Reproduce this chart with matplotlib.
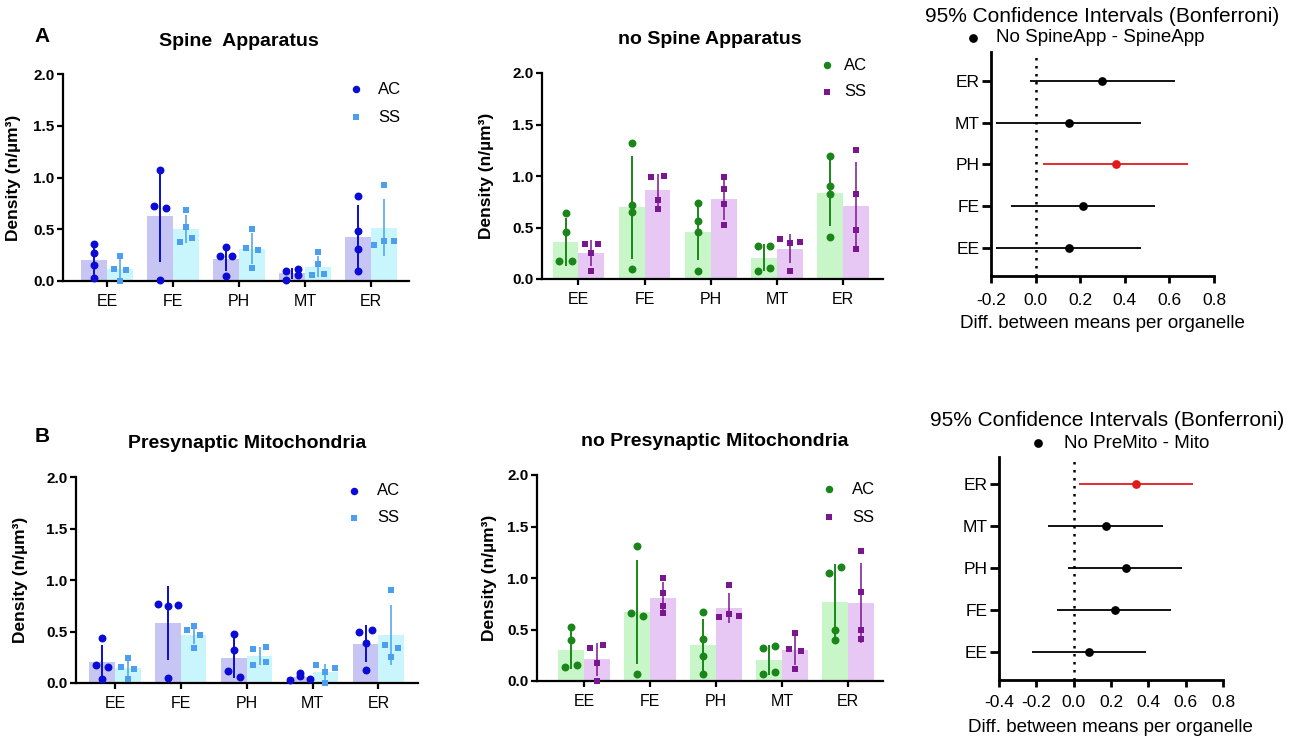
import numpy as np
import matplotlib
matplotlib.use("Agg")
import matplotlib.pyplot as plt
from matplotlib.lines import Line2D

plt.rcParams['font.family'] = ['Liberation Sans', 'DejaVu Sans']

W, H = 1300, 747

# ---------------- data ----------------
cats = ['EE', 'FE', 'PH', 'MT', 'ER']

# Spine Apparatus
sa_ac = [[0.36, 0.27, 0.15, 0.03], [0.72, 0.71, 1.07, 0.01], [0.24, 0.24, 0.33, 0.05],
         [0.10, 0.01, 0.12, 0.06], [0.82, 0.48, 0.31, 0.10]]
sa_ss = [[0.24, 0.12, 0.11, 0.00], [0.69, 0.52, 0.38, 0.42], [0.50, 0.32, 0.30, 0.13],
         [0.28, 0.16, 0.055, 0.065], [0.93, 0.35, 0.39, 0.39]]
# no Spine Apparatus
nsa_ac = [[0.64, 0.46, 0.17, 0.17], [1.32, 0.72, 0.65, 0.10], [0.74, 0.56, 0.46, 0.08],
          [0.32, 0.32, 0.08, 0.11], [1.19, 0.90, 0.83, 0.41]]
nsa_ss = [[0.34, 0.34, 0.25, 0.08], [0.99, 1.00, 0.77, 0.68], [0.99, 0.87, 0.73, 0.52],
          [0.39, 0.35, 0.36, 0.08], [1.25, 0.83, 0.48, 0.29]]
# Presynaptic Mitochondria
pm_ac = [[0.44, 0.17, 0.16, 0.04], [0.77, 0.75, 0.76, 0.05], [0.48, 0.32, 0.12, 0.06],
         [0.10, 0.03, 0.07, 0.04], [0.50, 0.51, 0.39, 0.13]]
pm_ss = [[0.24, 0.16, 0.14, 0.04], [0.51, 0.55, 0.47, 0.34], [0.33, 0.17, 0.35, 0.20],
         [0.17, 0.11, 0.15, 0.00], [0.90, 0.37, 0.25, 0.34]]
# no Presynaptic Mitochondria
npm_ac = [[0.52, 0.40, 0.14, 0.16], [1.31, 0.66, 0.63, 0.07], [0.67, 0.41, 0.24, 0.07],
          [0.32, 0.34, 0.07, 0.09], [1.05, 1.11, 0.50, 0.40]]
npm_ss = [[0.32, 0.35, 0.17, 0.00], [1.00, 0.85, 0.73, 0.66], [0.93, 0.62, 0.65, 0.63],
          [0.47, 0.31, 0.29, 0.12], [1.26, 0.86, 0.50, 0.41]]

# Confidence intervals (order EE, FE, PH, MT, ER from bottom to top)
ci_cats = ['EE', 'FE', 'PH', 'MT', 'ER']
ci1_mean = [0.148, 0.211, 0.361, 0.148, 0.299]
ci1_lo = [-0.178, -0.112, 0.035, -0.178, -0.025]
ci1_hi = [0.473, 0.535, 0.685, 0.473, 0.625]
ci2_mean = [0.083, 0.219, 0.278, 0.174, 0.335]
ci2_lo = [-0.223, -0.089, -0.030, -0.135, 0.031]
ci2_hi = [0.385, 0.519, 0.582, 0.477, 0.639]

# ---------------- styles ----------------
BLUE, BLUE_BAR = '#0B0BD6', '#C6C5F3'
LBLUE, LBLUE_BAR = '#4B9FEE', '#C9F6FC'
GREEN, GREEN_BAR = '#1A861A', '#C8F6C8'
PURPLE, PURPLE_BAR = '#7A168F', '#E7C8F4'
RED = '#E31A1C'

fig = plt.figure(figsize=(W / 100, H / 100), dpi=100)


def ax_at(l, t, r, b):
    return fig.add_axes([l / W, 1 - b / H, (r - l) / W, (b - t) / H])


def fx(x):
    return x / W


def fy(y):
    return 1 - y / H


def swarm(vals, thr=0.062):
    vals = np.asarray(vals, float)
    order = np.argsort(vals, kind='stable')
    rows, cur, start = [], [], None
    for i in order:
        if start is None or vals[i] - start > thr:
            if cur:
                rows.append(cur)
            cur, start = [i], vals[i]
        else:
            cur.append(i)
    rows.append(cur)
    off = np.zeros(len(vals))
    for row in rows:
        row = sorted(row)
        n = len(row)
        d = 0.19 if n == 2 else 0.15
        for k, idx in enumerate(row):
            off[idx] = (k - (n - 1) / 2) * d
    return off


def bar_panel(rect, xlim, ac, ss, cols, title, title_xy, leg, ylab_dx):
    ac_c, ac_b, ss_c, ss_b = cols
    ax = ax_at(*rect)
    x = np.arange(len(cats))
    w = 0.39
    ac_mean = [np.mean(v) for v in ac]
    ss_mean = [np.mean(v) for v in ss]
    ac_sd = [np.std(v, ddof=1) for v in ac]
    ss_sd = [np.std(v, ddof=1) for v in ss]
    ax.bar(x - w / 2, ac_mean, width=w, color=ac_b, zorder=1)
    ax.bar(x + w / 2, ss_mean, width=w, color=ss_b, zorder=1)
    ax.errorbar(x - w / 2, ac_mean, yerr=ac_sd, fmt='none', ecolor=ac_c,
                elinewidth=1.4, capsize=0, zorder=2)
    ax.errorbar(x + w / 2, ss_mean, yerr=ss_sd, fmt='none', ecolor=ss_c,
                elinewidth=1.1, capsize=0, zorder=2)
    for i in range(len(cats)):
        o = swarm(ac[i])
        ax.plot(x[i] - w / 2 + o, ac[i], 'o', color=ac_c, ms=5.7, mew=0,
                clip_on=False, zorder=3)
        o = swarm(ss[i])
        ax.plot(x[i] + w / 2 + o, ss[i], 's', color=ss_c, ms=4.8, mew=0,
                clip_on=False, zorder=3)
    ax.set_xlim(*xlim)
    ax.set_ylim(0, 2.0)
    ax.set_xticks(x)
    ax.set_xticklabels(cats, fontsize=11.5)
    ax.set_yticks([0, 0.5, 1.0, 1.5, 2.0])
    ax.set_yticklabels(['0.0', '0.5', '1.0', '1.5', '2.0'], fontsize=11,
                       fontweight='bold')
    for s in ['top', 'right']:
        ax.spines[s].set_visible(False)
    for s in ['left', 'bottom']:
        ax.spines[s].set_linewidth(1.6)
    ax.tick_params(axis='both', direction='out', length=4, width=1.6)
    ax.tick_params(axis='x', pad=5)
    ax.tick_params(axis='y', pad=2)
    ax.patch.set_alpha(0)
    l, t, r, b = rect
    ax.set_ylabel('Density (n/µm³)', fontsize=12.5, fontweight='bold')
    ax.yaxis.set_label_coords(ylab_dx / (r - l), 0.5)
    fig.text(fx(title_xy[0]), fy(title_xy[1]), title, ha='center', va='center',
             fontsize=14, fontweight='bold')
    (mx, my1, my2, tx) = leg
    fig.add_artist(Line2D([fx(mx)], [fy(my1)], marker='o', color=ac_c, ms=5.4,
                          mew=0, ls='none', transform=fig.transFigure))
    fig.add_artist(Line2D([fx(mx)], [fy(my2)], marker='s', color=ss_c, ms=4.7,
                          mew=0, ls='none', transform=fig.transFigure))
    fig.text(fx(tx), fy(my1), 'AC', ha='left', va='center', fontsize=12)
    fig.text(fx(tx), fy(my2), 'SS', ha='left', va='center', fontsize=12)
    return ax


def ci_panel(rect, xlim, ylim, means, lo, hi, red_idx, xticks, title, title_xy,
             leg_label, leg_xy, leg_tx, xlab_xy, xpad):
    ax = ax_at(*rect)
    y = np.arange(len(ci_cats))
    ax.axvline(0, color='black', lw=1.8, ls=(0, (1, 2.2)), zorder=1)
    for i in range(len(ci_cats)):
        c = RED if i == red_idx else 'black'
        m = means[i]
        ax.errorbar([m], [y[i]], xerr=[[m - lo[i]], [hi[i] - m]], fmt='o', color=c,
                    ms=6.3, mew=0, elinewidth=1.3, capsize=1.6, capthick=1.0,
                    zorder=3)
    ax.set_xlim(*xlim)
    ax.set_ylim(*ylim)
    ax.set_yticks(y)
    ax.set_yticklabels(ci_cats, fontsize=12.5)
    ax.set_xticks(xticks)
    ax.set_xticklabels(['%.1f' % v if v >= 0 else '-%.1f' % abs(v) for v in xticks],
                       fontsize=12.5)
    for s in ['top', 'right']:
        ax.spines[s].set_visible(False)
    for s in ['left', 'bottom']:
        ax.spines[s].set_linewidth(2.0)
    ax.tick_params(axis='y', direction='out', length=6.5, width=2.0, pad=2)
    ax.tick_params(axis='x', direction='out', length=5, width=2.0, pad=xpad)
    ax.patch.set_alpha(0)
    fig.text(fx(title_xy[0]), fy(title_xy[1]), title, ha='center', va='center',
             fontsize=15)
    fig.add_artist(Line2D([fx(leg_xy[0])], [fy(leg_xy[1])], marker='o', color='black',
                          ms=6.3, mew=0, ls='none', transform=fig.transFigure))
    fig.text(fx(leg_tx), fy(leg_xy[1]), leg_label, ha='left', va='center',
             fontsize=13.5)
    fig.text(fx(xlab_xy[0]), fy(xlab_xy[1]), 'Diff. between means per organelle',
             ha='center', va='center', fontsize=13.5)
    return ax


bar_panel((63, 74, 409, 281), (-0.667, 4.576), sa_ac, sa_ss,
          (BLUE, BLUE_BAR, LBLUE, LBLUE_BAR), 'Spine  Apparatus', (239, 41),
          (356, 89, 117, 378), -42)
bar_panel((542, 73, 883, 279), (-0.55, 4.6), nsa_ac, nsa_ss,
          (GREEN, GREEN_BAR, PURPLE, PURPLE_BAR), 'no Spine Apparatus', (710, 40),
          (827, 65, 92, 844), -48)
bar_panel((76, 477, 418, 683), (-0.59, 4.6), pm_ac, pm_ss,
          (BLUE, BLUE_BAR, LBLUE, LBLUE_BAR), 'Presynaptic Mitochondria', (247, 443),
          (354, 491, 518, 377), -48)
bar_panel((537, 475, 883, 681), (-0.71, 4.53), npm_ac, npm_ss,
          (GREEN, GREEN_BAR, PURPLE, PURPLE_BAR), 'no Presynaptic Mitochondria',
          (715, 442), (829, 489, 517, 852), -40)

ci_panel((991, 52, 1214, 276), (-0.2, 0.8), (-0.67, 4.69), ci1_mean, ci1_lo, ci1_hi, 2,
         [-0.2, 0.0, 0.2, 0.4, 0.6, 0.8], '95% Confidence Intervals (Bonferroni)',
         (1102, 16), 'No SpineApp - SpineApp', (973, 38), 996, (1102, 323), 7)
ci_panel((999, 457, 1223, 680), (-0.4, 0.8), (-0.67, 4.64), ci2_mean, ci2_lo, ci2_hi, 4,
         [-0.4, -0.2, 0.0, 0.2, 0.4, 0.6, 0.8], '95% Confidence Intervals (Bonferroni)',
         (1107, 421), 'No PreMito - Mito', (1038, 443), 1064, (1110, 728), 6)

fig.text(fx(42), fy(36), 'A', ha='center', va='center', fontsize=15, fontweight='bold')
fig.text(fx(42), fy(437), 'B', ha='center', va='center', fontsize=15, fontweight='bold')

fig.savefig('out.png', dpi=100)
